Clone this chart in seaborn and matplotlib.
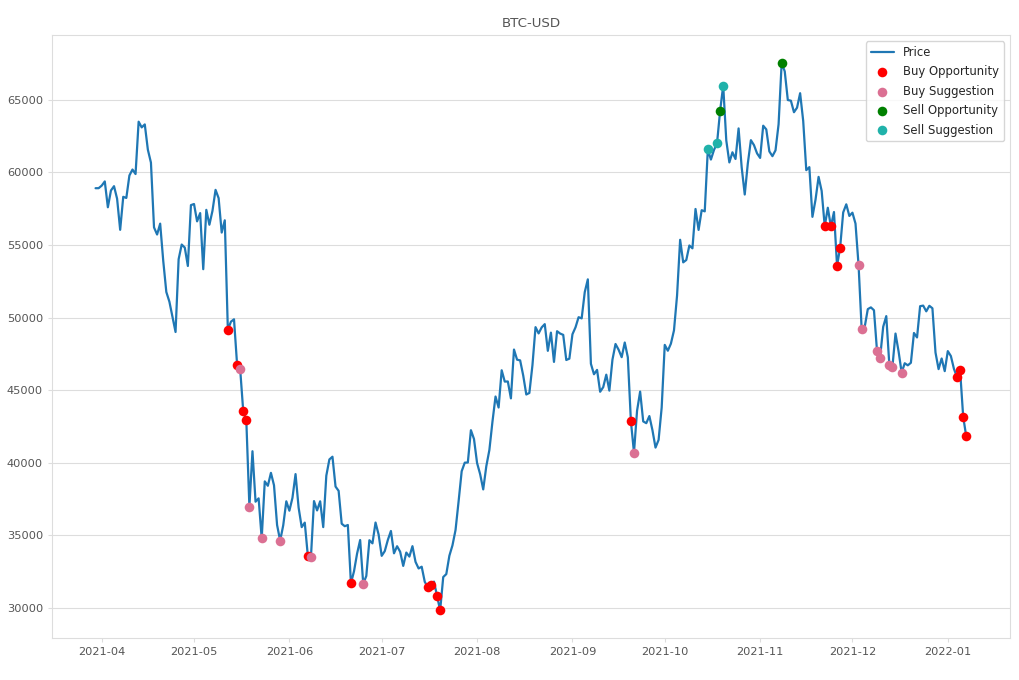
import pandas as pd
import matplotlib.pyplot as plt
import matplotlib.dates as mdates
import seaborn as sns

# BTC-USD daily close, 2021-03-30 .. 2022-01-07
start_date = "2021-03-30"
close_mar = [58917, 58918]
close_apr = [59095, 59384, 57603, 58758, 59057, 58192, 56048, 58323, 58245, 59793,
             60204, 59893, 63503, 63110, 63314, 61572, 60683, 56216, 55724, 56473,
             53906, 51762, 51093, 50050, 49004, 54021, 55033, 54824, 53555, 57750]
close_may = [57828, 56631, 57200, 53333, 57424, 56397, 57356, 58803, 58232, 55859,
             56704, 49150, 49716, 49880, 46760, 46456, 43537, 42909, 36965, 40784,
             37304, 37536, 34770, 38705, 38402, 39294, 38436, 35697, 34616, 35678, 37333]
close_jun = [36684, 37575, 39208, 36894, 35551, 35862, 33560, 33472, 37345, 36702,
             37334, 35552, 39097, 40218, 40406, 38347, 38053, 35787, 35615, 35698,
             31676, 32505, 33723, 34662, 31637, 32186, 34649, 34434, 35867, 35041]
close_jul = [33572, 33897, 34668, 35287, 33746, 34235, 33855, 32877, 33798, 33520,
             34240, 33155, 32702, 32822, 31780, 31421, 31533, 31796, 30817, 29807,
             32110, 32314, 33581, 34292, 35350, 37337, 39406, 39995, 40008, 42235, 41626]
close_aug = [39974, 39201, 38152, 39747, 40869, 42816, 44555, 43798, 46365, 45585,
             45593, 44428, 47793, 47096, 47047, 46004, 44695, 44801, 46717, 49339,
             48905, 49321, 49546, 47706, 48960, 46942, 49058, 48897, 48806, 47074, 47166]
close_sep = [48847, 49328, 50025, 49944, 51753, 52633, 46811, 46091, 46391, 44883,
             45201, 46063, 44963, 47092, 48177, 47784, 47268, 48278, 47261, 42844,
             40694, 43574, 44896, 42840, 42717, 43208, 42236, 41035, 41564, 43791]
close_oct = [48116, 47712, 48200, 49113, 51515, 55361, 53805, 53967, 54968, 54772,
             57485, 56041, 57401, 57321, 61593, 60892, 61553, 62026, 64262, 65993,
             62210, 60693, 61393, 60931, 63039, 60364, 58482, 60622, 62228, 61888, 61319]
close_nov = [61005, 63226, 62970, 61453, 61125, 61527, 63326, 67566, 66971, 64995,
             64950, 64155, 64469, 65466, 63557, 60161, 60369, 56943, 58119, 59697,
             58730, 56289, 57570, 56281, 57275, 53570, 54815, 57248, 57806, 57005]
close_dec = [57229, 56477, 53598, 49201, 49368, 50582, 50701, 50504, 47672, 47243,
             49362, 50098, 46737, 46612, 48896, 47666, 46203, 46849, 46707, 46880,
             48936, 48628, 50784, 50823, 50429, 50810, 50640, 47588, 46444, 47178, 46306]
close_jan = [47686, 47345, 46458, 45897, 46350, 43160, 41800]

buy_opportunity = ["2021-05-12", "2021-05-15", "2021-05-17", "2021-05-18", "2021-06-07",
                   "2021-06-21", "2021-07-16", "2021-07-17", "2021-07-19", "2021-07-20",
                   "2021-09-20", "2021-11-22", "2021-11-24", "2021-11-26", "2021-11-27",
                   "2022-01-04", "2022-01-05", "2022-01-06", "2022-01-07"]
buy_suggestion = ["2021-05-16", "2021-05-19", "2021-05-23", "2021-05-29", "2021-06-08",
                  "2021-06-25", "2021-09-21", "2021-12-03", "2021-12-04", "2021-12-09",
                  "2021-12-10", "2021-12-13", "2021-12-14", "2021-12-17"]
sell_opportunity = ["2021-10-19", "2021-11-08"]
sell_suggestion = ["2021-10-15", "2021-10-18", "2021-10-20"]

closes = (close_mar + close_apr + close_may + close_jun + close_jul + close_aug
          + close_sep + close_oct + close_nov + close_dec + close_jan)
df = pd.DataFrame({"Date": pd.date_range(start_date, periods=len(closes), freq="D"),
                   "Close": closes})
df = df.set_index("Date")

sns.set_style("whitegrid")
plt.rcParams["font.family"] = ["DejaVu Sans"]

fig, ax = plt.subplots(figsize=(10.2, 6.8), dpi=100)
fig.subplots_adjust(left=0.051, right=0.99, top=0.948, bottom=0.062)

sns.lineplot(x=df.index, y=df["Close"], ax=ax, color="#1f77b4", linewidth=1.6, label="Price")

signals = [(buy_opportunity, "red", "Buy Opportunity"),
           (buy_suggestion, "palevioletred", "Buy Suggestion"),
           (sell_opportunity, "green", "Sell Opportunity"),
           (sell_suggestion, "lightseagreen", "Sell Suggestion")]
for days, colour, name in signals:
    pts = df.loc[pd.to_datetime(days)]
    sns.scatterplot(x=pts.index, y=pts["Close"], ax=ax, color=colour, s=48,
                    linewidth=0, label=name, zorder=3)

ax.set_title("BTC-USD", fontsize=9.6, color="#555555")
ax.set_xlabel("")
ax.set_ylabel("")
ax.xaxis.set_major_locator(mdates.MonthLocator())
ax.xaxis.set_major_formatter(mdates.DateFormatter("%Y-%m"))
ax.grid(axis="x", visible=False)
ax.grid(axis="y", color="#dddddd", linewidth=0.8)
ax.tick_params(axis="both", labelsize=8.2, labelcolor="#555555", colors="#dddddd",
               bottom=True, left=True, length=3)
for sp in ax.spines.values():
    sp.set_color("#dddddd")
ax.legend(loc="upper right", fontsize=8.4, labelspacing=0.55, frameon=True,
          edgecolor="#cccccc")

plt.savefig("out.png", dpi=100)
